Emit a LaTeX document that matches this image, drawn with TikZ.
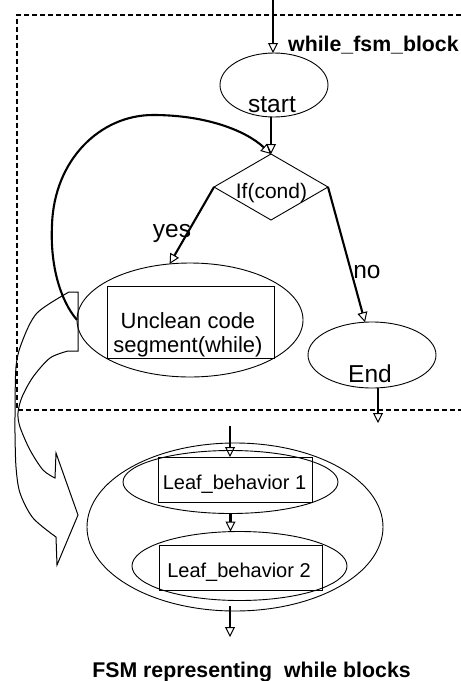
\documentclass[tikz,border=0pt]{standalone}
\usepackage{fontspec}
\setmainfont{Liberation Sans}
\usetikzlibrary{shapes.geometric,arrows.meta}
\begin{document}
\begin{tikzpicture}[x=1pt,y=-1pt,
  shp/.style={draw,line width=0.9pt,inner sep=0pt,outer sep=0pt},
  ell/.style={shp,ellipse},
  box/.style={shp,rectangle},
  conn/.style={line width=2.1pt,-{Triangle[open,length=10pt,width=10pt,line width=1pt]}},
  lbl/.style={inner sep=0pt,anchor=base},
  fbig/.style={font=\fontsize{24.5}{29}\selectfont},
  fmid/.style={font=\fontsize{21}{24}\selectfont},
  fleaf/.style={font=\fontsize{20}{24}\selectfont},
  fbold/.style={font=\fontsize{21.3}{25}\selectfont\bfseries},
  frame/.style={line width=2.2pt,dash pattern=on 5pt off 3pt},
  blockarrow/.style={draw,line width=1pt,line join=miter}
]
\useasboundingbox (0,0) rectangle (461,681);

% dashed frame
\draw[frame] (461,15) -- (17,15) -- (17,410) -- (461,410);

% shapes
\node[ell,minimum width=108pt,minimum height=64pt] (start) at (274,85) {};
\node[shp,diamond,minimum width=114pt,minimum height=66pt] (cond) at (271,187) {};
\node[ell,minimum width=226pt,minimum height=114pt] (uell) at (190,320) {};
\node[box,minimum width=167pt,minimum height=72pt] (ubox) at (190.5,322) {};
\node[ell,minimum width=128pt,minimum height=66pt] (endell) at (372,355) {};
\node[ell,minimum width=296pt,minimum height=168pt] (bigell) at (235,527) {};
\node[ell,minimum width=215pt,minimum height=63pt] (lell1) at (230.5,482) {};
\node[box,minimum width=154pt,minimum height=45pt] (lbox1) at (235,479.5) {};
\node[ell,minimum width=215pt,minimum height=69pt] (lell2) at (239.5,566) {};
\node[box,minimum width=163pt,minimum height=45pt] (lbox2) at (240.5,567.5) {};

% texts
\node[lbl,fbig] (tstart) at (272,112) {start};
\node[lbl,fmid] (tcond) at (271.5,198) {If(cond)};
\node[lbl,fbig] (tyes) at (172,237) {yes};
\node[lbl,fbig] (tno) at (367,278) {no};
\node[inner sep=0pt,align=center,font=\fontsize{22}{24}\selectfont] (tunclean) at (188,334.5) {Unclean code\\segment(while)};
\node[lbl,fbig] (tend) at (370,382) {End};
\node[lbl,fleaf] (tleaf1) at (234.5,489) {Leaf\_behavior 1};
\node[lbl,fleaf] (tleaf2) at (239,577) {Leaf\_behavior 2};
\node[lbl,fbold,anchor=base west] (tblock) at (288,51) {while\_fsm\_block};
\node[lbl,fbold] (tcaption) at (251.5,677) {FSM representing\ \ while blocks};

% connectors
\coordinate (topin) at (273,0);
\draw[conn] (topin) -- (topin |- start.north);
\draw[conn] (cond.north |- start.south) -- (cond.north);
\draw[conn] (cond.west) -- (uell.110);
\draw[conn] (cond.east) -- (endell.102);
\draw[conn] (uell.west) .. controls (60,300) and (50,265) .. (52,225)
  .. controls (54,160) and (100,115) .. (153,115)
  .. controls (205,115) and (245,130) .. (cond.north);
\coordinate (endout) at (378,423);
\draw[conn] (endell.south -| endout) -- (endout);

\coordinate (leafin) at (230,426);
\draw[conn] (leafin) -- (leafin |- lbox1.north);
\draw[conn] (lell1.south) -- (lell1.south |- lell2.north);
\coordinate (leafout) at (230,637);
\draw[conn] ([yshift=5pt]bigell.south -| leafout) -- (leafout);

% hollow block arrow
\draw[blockarrow] (78,292) -- plot[smooth] coordinates {(69,292) (37,313) (22,342) (16,367) (15,417) (15,433) (16,467) (20,493) (33,518) (56,537)}
  -- (57,565) -- (78,515) -- (56,453)
  -- plot[smooth] coordinates {(55,478) (43,470) (30,450) (20,427) (18,413) (22,397) (33,377) (50,358) (68,351)}
  -- (78,351) -- cycle;
\end{tikzpicture}
\end{document}
